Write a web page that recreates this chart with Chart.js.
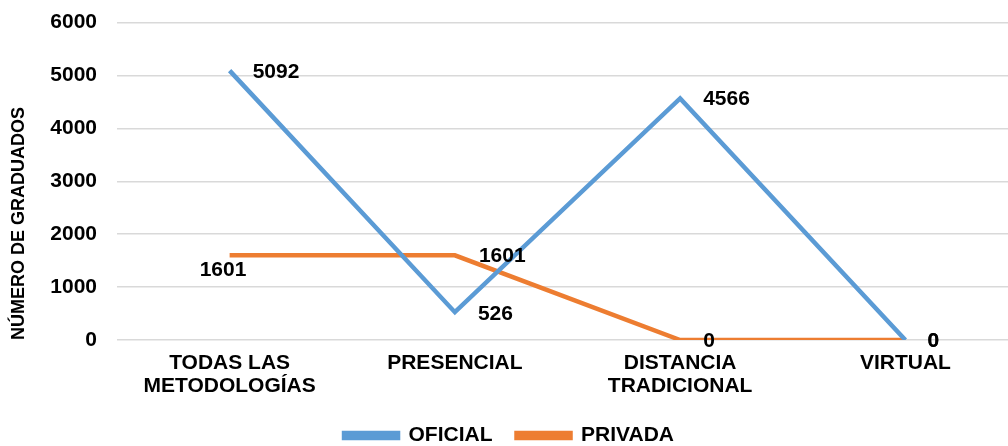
<!DOCTYPE html>
<html>
<head>
<meta charset="utf-8">
<script src="https://cdn.jsdelivr.net/npm/chart.js@4.4.1/dist/chart.umd.min.js"></script>
<style>
html,body{margin:0;padding:0;background:#fff;overflow:hidden;width:1008px;height:446px;}
#wrap{position:absolute;left:0;top:0;width:1018px;height:456px;}
</style>
</head>
<body>
<div id="wrap"><canvas id="c" width="1018" height="456"></canvas></div>
<script>
const categories = [["TODAS LAS","METODOLOGÍAS"], "PRESENCIAL", ["DISTANCIA","TRADICIONAL"], "VIRTUAL"];
const oficial = [5092, 526, 4566, 0];
const privada = [1601, 1601, 0, 0];
const yTicks = [0, 1000, 2000, 3000, 4000, 5000, 6000];

const FONT = "'Liberation Sans', Arial, sans-serif";

// label placement (style, not data): offset of text left edge & vertical center from the point
const labelOffsets = [
  [[23,2],[23,2],[23,1],[22,1]],
  [[-30,15],[24,1],[23,1],[22,1]]
];

const labelPlugin = {
  id: 'valueLabels',
  afterDatasetsDraw(chart) {
    const ctx = chart.ctx;
    ctx.save();
    ctx.font = "bold 21px " + FONT;
    ctx.fillStyle = "#000";
    ctx.textAlign = "left";
    ctx.textBaseline = "middle";
    chart.data.datasets.forEach((ds, i) => {
      const meta = chart.getDatasetMeta(i);
      meta.data.forEach((pt, j) => {
        const off = labelOffsets[i][j];
        ctx.fillText(String(ds.data[j]), pt.x + off[0], pt.y + off[1]);
      });
    });
    ctx.restore();
  }
};

new Chart(document.getElementById('c'), {
  type: 'line',
  data: {
    labels: categories,
    datasets: [
      {label: 'OFICIAL', data: oficial, borderColor: '#5B9BD5', backgroundColor: '#5B9BD5', borderWidth: 4.5, pointRadius: 0, tension: 0},
      {label: 'PRIVADA', data: privada, borderColor: '#ED7D31', backgroundColor: '#ED7D31', borderWidth: 4.5, pointRadius: 0, tension: 0}
    ]
  },
  options: {
    responsive: false,
    animation: false,
    layout: {padding: {top: 0, right: 0, left: 0, bottom: 0}},
    plugins: {
      legend: {
        position: 'bottom',
        labels: {
          font: {family: FONT, size: 21, weight: 'bold'},
          color: '#000',
          boxWidth: 54,
          boxHeight: 5,
          padding: 24
        }
      },
      tooltip: {enabled: false}
    },
    scales: {
      x: {
        offset: true,
        grid: {display: false, drawTicks: false},
        border: {display: false},
        ticks: {font: {family: FONT, size: 21, weight: 'bold', lineHeight: 1.1}, color: '#000', padding: 12, maxRotation: 0, autoSkip: false},
        afterFit(s) { s.height = 61; }
      },
      y: {
        min: 0, max: 6000,
        afterBuildTicks(s) { s.ticks = yTicks.map(v => ({value: v})); },
        grid: {color: '#d9d9d9', lineWidth: 1.5, drawTicks: true, tickLength: 10, tickColor: 'rgba(0,0,0,0)'},
        border: {display: false},
        ticks: {font: {family: FONT, size: 21, weight: 'bold'}, color: '#000', padding: 10, callback: v => String(v)},
        title: {display: true, align: 'start', text: 'NÚMERO DE GRADUADOS', font: {family: FONT, size: 18, weight: 'bold'}, color: '#000', padding: {top: 8, bottom: 0}},
        afterFit(s) { s.width = 117; }
      }
    }
  },
  plugins: [labelPlugin]
});
</script>
</body>
</html>
